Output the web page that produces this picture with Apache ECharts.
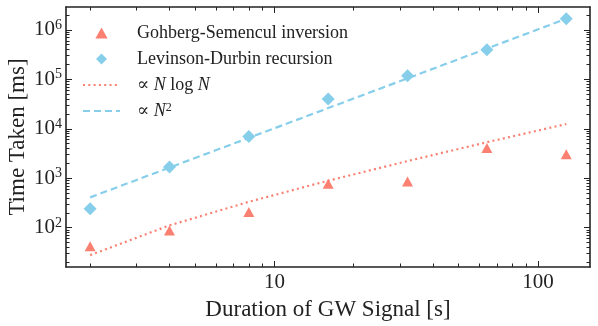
<!DOCTYPE html>
<html>
<head>
<meta charset="utf-8">
<script src="https://cdn.jsdelivr.net/npm/echarts@6/dist/echarts.min.js"></script>
<style>
  html, body { margin: 0; padding: 0; background: #fff; }
  #main { width: 598px; height: 326px; }
</style>
</head>
<body>
<div id="main"></div>
<script>
// data
const durations = [2, 4, 8, 16, 32, 64, 128];
const gohbergTimes = [42, 88, 208, 770, 860, 4100, 3050];
const levinsonTimes = [240, 1680, 7000, 39800, 118000, 395000, 1670000];
const fitNlogN = [27.8, 111, 333, 890, 2220, 5340, 12450];
const fitN2 = [409, 1640, 6540, 26200, 104700, 419000, 1675000];

const xMajor = [10, 100];
const xMinor = [2, 3, 4, 5, 6, 7, 8, 9, 20, 30, 40, 50, 60, 70, 80, 90];
const yMajor = [1e2, 1e3, 1e4, 1e5, 1e6];
const yMinor = [];
[10, 100, 1000, 10000, 100000, 1000000].forEach(function (d) {
  for (let k = 2; k <= 9; k++) {
    const v = d * k;
    if (v > 16 && v < 2.9e6) yMinor.push(v);
  }
});

const xMin = 1.62, xMax = 157.5;
const yMin = 16.0, yMax = 2.9e6;
const ink = "#222";
const serif = "'Liberation Serif', 'DejaVu Serif', serif";
const pink = "#FA8072";
const blue = "#87CEEB";

const pairs = function (ys) {
  return durations.map(function (x, i) { return [x, ys[i]]; });
};

// 4 axes per direction: major + minor ticks, both sides of the box
function makeX(pos, ticks, len, withLine, withLabel) {
  return {
    type: "log", min: xMin, max: xMax, position: pos,
    axisLine: { show: withLine, lineStyle: { color: ink, width: 1.6 } },
    axisTick: { show: true, inside: true, length: len, customValues: ticks, lineStyle: { color: ink, width: 1 } },
    axisLabel: {
      show: withLabel, customValues: xMajor, color: ink, fontFamily: serif, fontSize: 21, margin: 5,
      formatter: function (v) { return String(Math.round(v)); }
    },
    splitLine: { show: false }, minorTick: { show: false }
  };
}
function makeY(pos, ticks, len, withLine, withLabel) {
  return {
    type: "log", min: yMin, max: yMax, position: pos,
    axisLine: { show: withLine, lineStyle: { color: ink, width: 1.6 } },
    axisTick: { show: true, inside: true, length: len, customValues: ticks, lineStyle: { color: ink, width: 1 } },
    axisLabel: {
      show: withLabel, customValues: yMajor, margin: 4,
      formatter: function (v) { return "{b|10}{e|" + Math.round(Math.log10(v)) + "}"; },
      rich: {
        b: { fontFamily: serif, fontSize: 21, color: ink },
        e: { fontFamily: serif, fontSize: 14, color: ink, verticalAlign: "top", padding: [0, 0, 9, 0] }
      }
    },
    splitLine: { show: false }, minorTick: { show: false }
  };
}

const triIcon = "path://M5,0 L10,9 L0,9 Z";
const diaIcon = "path://M5,0 L10,5 L5,10 L0,5 Z";
const noMark = { color: "rgba(0,0,0,0)", borderColor: "rgba(0,0,0,0)", borderWidth: 0 };

const chart = echarts.init(document.getElementById("main"));
chart.setOption({
  animation: false,
  backgroundColor: "#fff",
  grid: { left: 66, right: 8, top: 7, bottom: 59, containLabel: false, outerBoundsMode: "none" },
  xAxis: [
    Object.assign(makeX("bottom", xMajor, 6, true, true), {
      name: "Duration of GW Signal [s]", nameLocation: "middle", nameGap: 31,
      nameTextStyle: { fontFamily: serif, fontSize: 23, color: ink }
    }),
    makeX("bottom", xMinor, 3.5, false, false),
    makeX("top", xMajor, 6, true, false),
    makeX("top", xMinor, 3.5, false, false)
  ],
  yAxis: [
    Object.assign(makeY("left", yMajor, 6, true, true), {
      name: "Time Taken [ms]", nameLocation: "middle", nameGap: 37, nameMoveOverlap: false,
      nameTextStyle: { fontFamily: serif, fontSize: 23, color: ink }
    }),
    makeY("left", yMinor, 3.5, false, false),
    makeY("right", yMajor, 6, true, false),
    makeY("right", yMinor, 3.5, false, false)
  ],
  legend: {
    orient: "vertical", left: 82, top: 23.5, padding: 0, itemGap: 7,
    itemWidth: 37, itemHeight: 11,
    textStyle: {
      fontFamily: serif, fontSize: 18, color: ink, lineHeight: 19,
      rich: {
        g: { width: 12, fontSize: 18, lineHeight: 19 },
        r: { fontFamily: serif, fontSize: 18, color: ink, lineHeight: 19 },
        i: { fontFamily: serif, fontSize: 18, fontStyle: "italic", color: ink, lineHeight: 19 },
        s: { fontFamily: serif, fontSize: 12, color: ink, verticalAlign: "top", padding: [0, 0, 8, 0] }
      }
    },
    data: [
      { name: "Gohberg-Semencul inversion", icon: triIcon },
      { name: "Levinson-Durbin recursion", icon: diaIcon },
      { name: "nlogn", itemStyle: noMark },
      { name: "n2", itemStyle: noMark }
    ],
    formatter: function (name) {
      if (name === "nlogn") return "{g| }{r|\u221D }{i|N}{r| log }{i|N}";
      if (name === "n2") return "{g| }{r|\u221D }{i|N}{s|2}";
      return "{g| }{r|" + name + "}";
    }
  },
  series: [
    {
      name: "Gohberg-Semencul inversion", type: "scatter", symbol: "triangle", symbolSize: [11, 10],
      itemStyle: { color: pink, opacity: 1 }, data: pairs(gohbergTimes), z: 5
    },
    {
      name: "Levinson-Durbin recursion", type: "scatter", symbol: "diamond", symbolSize: 13,
      itemStyle: { color: blue, opacity: 1 }, data: pairs(levinsonTimes), z: 5
    },
    {
      name: "nlogn", type: "line", symbol: "none", smooth: false,
      lineStyle: { color: pink, width: 2.2, type: [2, 3.3] }, itemStyle: { color: pink },
      data: pairs(fitNlogN), z: 3
    },
    {
      name: "n2", type: "line", symbol: "none", smooth: false,
      lineStyle: { color: blue, width: 2.2, type: [7, 4] }, itemStyle: { color: blue },
      data: pairs(fitN2), z: 3
    }
  ]
});
</script>
</body>
</html>
